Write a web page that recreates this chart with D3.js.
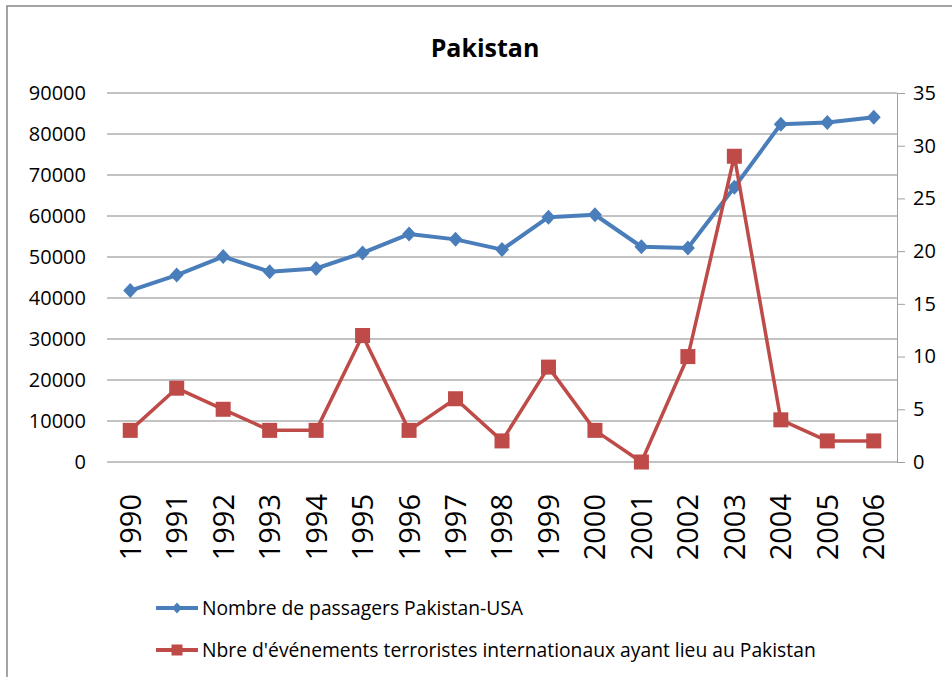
<!DOCTYPE html>
<html>
<head>
<meta charset="utf-8">
<script src="https://cdn.jsdelivr.net/npm/d3@7"></script>
<style>
  body { margin: 0; background: #fff; }
  text { font-family: "Open Sans", sans-serif; fill: #000; }
</style>
</head>
<body>
<script>
var width = 952,
    height = 677;

// donnees
var years = ["1990", "1991", "1992", "1993", "1994", "1995", "1996", "1997", "1998",
             "1999", "2000", "2001", "2002", "2003", "2004", "2005", "2006"];
var passagers = [41800, 45600, 50100, 46400, 47200, 51000, 55600, 54300, 51800,
                 59700, 60300, 52500, 52200, 67000, 82400, 82800, 84100];
var evenements = [3, 7, 5, 3, 3, 12, 3, 6, 2, 9, 3, 0, 10, 29, 4, 2, 2];
var leftTicks = [0, 10000, 20000, 30000, 40000, 50000, 60000, 70000, 80000, 90000];
var rightTicks = [0, 5, 10, 15, 20, 25, 30, 35];
var seriesNames = ["Nombre de passagers Pakistan-USA",
                   "Nbre d'événements terroristes internationaux ayant lieu au Pakistan"];
var blue = "#4a7ebb", red = "#be4b48", grid = "#868686";

var svg = d3.select("body").append("svg")
    .attr("width", width)
    .attr("height", height);

// cadre du graphique
svg.append("rect")
    .attr("x", 7).attr("y", 6)
    .attr("width", 980).attr("height", 720)
    .attr("fill", "none")
    .attr("stroke", grid)
    .attr("stroke-width", 1.5);

var plot = {left: 107, right: 897, top: 93, bottom: 462};

var x = d3.scaleBand().domain(years).range([plot.left, plot.right]);
var yL = d3.scaleLinear().domain([0, 90000]).range([plot.bottom, plot.top]);
var yR = d3.scaleLinear().domain([0, 35]).range([plot.bottom, plot.top]);
function cx(d) { return x(d) + x.bandwidth() / 2; }

// titre
svg.append("text")
    .attr("x", 485).attr("y", 57)
    .attr("text-anchor", "middle")
    .style("font-size", "25px")
    .style("font-weight", "bold")
    .text("Pakistan");

// grille
svg.append("g").selectAll("line")
    .data(leftTicks)
    .join("line")
    .attr("x1", plot.left).attr("x2", plot.right)
    .attr("y1", d => yL(d)).attr("y2", d => yL(d))
    .attr("stroke", grid).attr("stroke-width", 1);

// axe gauche
var axL = svg.append("g")
    .attr("transform", "translate(" + plot.left + ",0)")
    .call(d3.axisLeft(yL).tickValues(leftTicks).tickFormat(d3.format("d")).tickSize(0).tickPadding(21));
axL.select(".domain").remove();
axL.selectAll("text").style("font-size", "20px").style("font-family", "'Open Sans', sans-serif");

// axe droit
var axR = svg.append("g")
    .attr("transform", "translate(" + plot.right + ",0)")
    .call(d3.axisRight(yR).tickValues(rightTicks).tickSize(8).tickPadding(8).tickSizeOuter(0));
axR.select(".domain").attr("stroke", "#a0a0a0");
axR.selectAll(".tick line").attr("stroke", "#a0a0a0");
axR.selectAll("text").style("font-size", "20px").style("font-family", "'Open Sans', sans-serif");

// axe des annees (texte vertical)
svg.append("g").selectAll("text")
    .data(years)
    .join("text")
    .attr("transform", d => "translate(" + cx(d) + ",494) rotate(-90)")
    .attr("dy", "0.36em")
    .attr("text-anchor", "end")
    .style("font-size", "29px")
    .text(d => d);

// series
var lineL = d3.line().x((d, i) => cx(years[i])).y(d => yL(d));
var lineR = d3.line().x((d, i) => cx(years[i])).y(d => yR(d));

svg.append("path")
    .datum(passagers)
    .attr("d", lineL)
    .attr("fill", "none")
    .attr("stroke", blue)
    .attr("stroke-width", 4)
    .attr("stroke-linejoin", "round");

svg.append("g").selectAll("path")
    .data(passagers)
    .join("path")
    .attr("transform", (d, i) => "translate(" + cx(years[i]) + "," + yL(d) + ")")
    .attr("d", "M0,-7.5L7,0L0,7.5L-7,0Z")
    .attr("fill", blue);

svg.append("path")
    .datum(evenements)
    .attr("d", lineR)
    .attr("fill", "none")
    .attr("stroke", red)
    .attr("stroke-width", 3.5)
    .attr("stroke-linejoin", "round");

svg.append("g").selectAll("rect")
    .data(evenements)
    .join("rect")
    .attr("x", (d, i) => cx(years[i]) - 7.5)
    .attr("y", d => yR(d) - 7.5)
    .attr("width", 15).attr("height", 15)
    .attr("fill", red);

// legende
var legend = svg.append("g").selectAll("g")
    .data(seriesNames)
    .join("g")
    .attr("transform", (d, i) => "translate(156," + (608 + i * 42) + ")");

legend.append("line")
    .attr("x1", 0).attr("x2", 42)
    .attr("stroke", (d, i) => i == 0 ? blue : red)
    .attr("stroke-width", 4);

legend.append("path")
    .attr("transform", "translate(21,0)")
    .attr("d", (d, i) => i == 0 ? "M0,-5.5L5,0L0,5.5L-5,0Z" : "M-5.5,-5.5H5.5V5.5H-5.5Z")
    .attr("fill", (d, i) => i == 0 ? blue : red);

legend.append("text")
    .attr("x", 46)
    .attr("dy", "0.36em")
    .style("font-size", "19.3px")
    .text(d => d);
</script>
</body>
</html>
